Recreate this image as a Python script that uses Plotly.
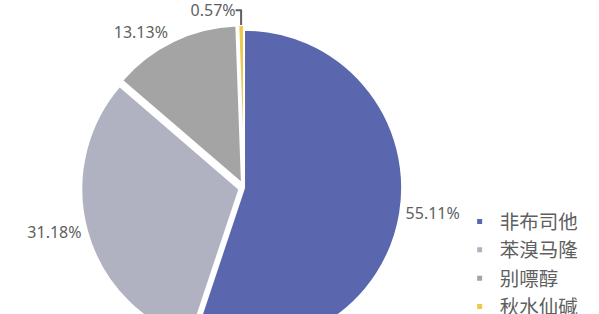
import plotly.graph_objects as go

categories = ["非布司他", "苯溴马隆", "别嘌醇", "秋水仙碱"]
shares = [55.11, 31.18, 13.13, 0.57]
colors = ["#5a66ae", "#b1b2c1", "#a4a4a4", "#efc84c"]
pulls = [0, 0.03, 0.03, 0.03]

W, H = 599, 420
cx, box = 222, 360
SHIFT = 15

fig = go.Figure()
fig.add_trace(go.Pie(
    labels=categories,
    values=shares,
    sort=False,
    direction="clockwise",
    rotation=0,
    pull=pulls,
    marker=dict(colors=colors, line=dict(color="white", width=2)),
    texttemplate="%{value:.2f}%",
    textposition="outside",
    textfont=dict(family="Noto Sans", size=16, color="#5f5f5f"),
    showlegend=False,
    hoverinfo="label+value",
    domain=dict(x=[(cx - box / 2) / W, (cx + box / 2) / W],
                y=[1 - box / H, 1]),
))

for name, col in zip(categories, colors):
    fig.add_trace(go.Scatter(
        x=[None], y=[None], mode="markers", name=name,
        marker=dict(symbol="square", size=5, color=col),
        showlegend=True, hoverinfo="skip",
    ))

fig.update_layout(
    width=W, height=H,
    margin=dict(l=0, r=0, t=0, b=0),
    paper_bgcolor="white", plot_bgcolor="white",
    xaxis=dict(visible=False), yaxis=dict(visible=False),
    legend=dict(x=451 / W, y=1 - (219 + SHIFT - 38) / H, xanchor="left", yanchor="top",
                font=dict(family="Noto Sans CJK SC", size=19.5, color="#5f5f5f"),
                bgcolor="rgba(0,0,0,0)", itemwidth=30, tracegroupgap=0),
)

fig.write_html(
    "out.html",
    post_script=(
        "document.body.style.margin='0';"
        "document.body.style.overflow='hidden';"
        "document.documentElement.style.overflow='hidden';"
        "document.querySelector('.plotly-graph-div').style.marginTop='-%dpx';" % SHIFT
    ),
)
